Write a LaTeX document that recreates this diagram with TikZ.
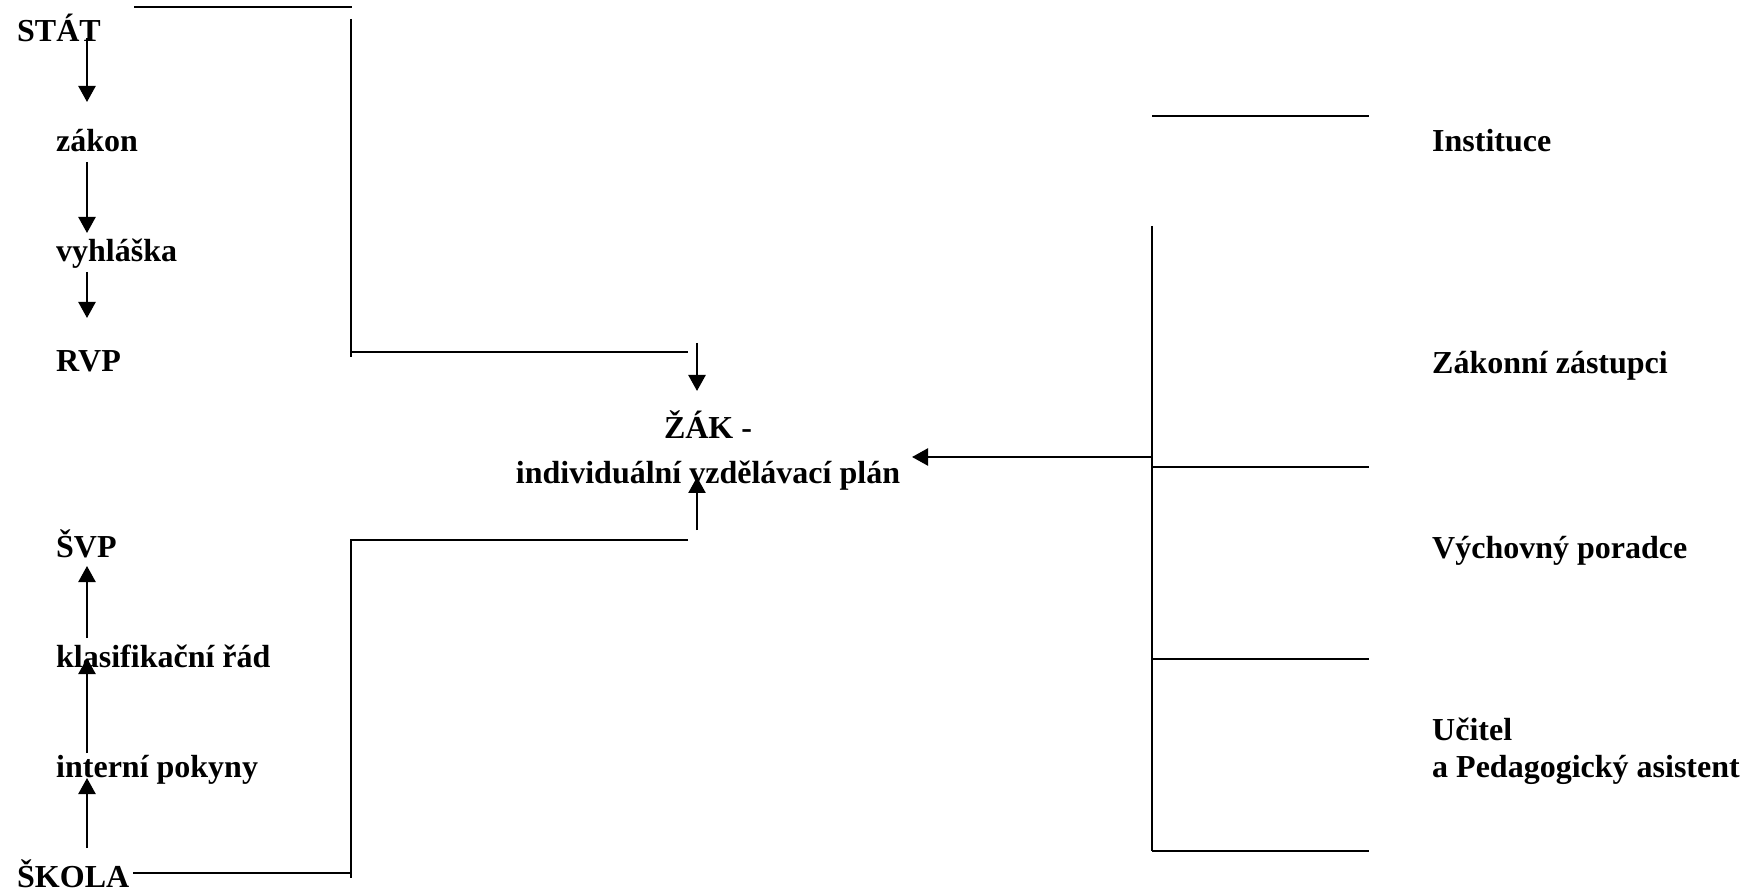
\documentclass[tikz,border=0pt]{standalone}
\usepackage{fontspec}
\setmainfont{Liberation Serif}
\usetikzlibrary{arrows.meta}
\usetikzlibrary{calc}

\begin{document}
\begin{tikzpicture}[x=0.5pt,y=-0.5pt,line width=1.2pt,
	popis/.style={anchor=base west,inner sep=0pt,font=\bfseries\fontsize{16}{19}\selectfont},
	sipka/.style={-{Triangle[length=8pt,width=8.5pt]}}]
	\useasboundingbox (0,0) rectangle (1749,892);
	\coordinate (osa) at (87,0);
	% stat
	\node[popis] (stat) at (16,42) {STÁT};
	\node[popis] (zakon) at (55,152) {zákon};
	\node[popis] (vyhlaska) at (55,262) {vyhláška};
	\node[popis] (rvp) at (55,372) {RVP};
	\draw[sipka] ($(stat.base -| osa)+(0,-4)$) -- ($(zakon.base -| osa)+(0,-50)$);
	\draw[sipka] ($(zakon.base -| osa)+(0,10)$) -- ($(vyhlaska.base -| osa)+(0,-29)$);
	\draw[sipka] ($(vyhlaska.base -| osa)+(0,10)$) -- ($(rvp.base -| osa)+(0,-54)$);
	% skola
	\node[popis] (svp) at (55,557) {ŠVP};
	\node[popis] (klasif) at (55,667) {klasifikační řád};
	\node[popis] (pokyny) at (55,777) {interní pokyny};
	\node[popis] (skola) at (16,887) {ŠKOLA};
	\draw[sipka] ($(skola.base -| osa)+(0,-39)$) -- ($(pokyny.base -| osa)+(0,1)$);
	\draw[sipka] ($(pokyny.base -| osa)+(0,-24)$) -- ($(klasif.base -| osa)+(0,-9)$);
	\draw[sipka] ($(klasif.base -| osa)+(0,-29)$) -- ($(svp.base -| osa)+(0,9)$);
	% zavorky vlevo
	\coordinate (SH1) at (134,7);
	\coordinate (SH2) at (352,7);
	\coordinate (SV1) at (351,19);
	\coordinate (SV2) at (351,357);
	\coordinate (SR) at (351,352);
	\coordinate (SK) at (688,352);
	\draw (SH1) -- (SH2);
	\draw (SV1) -- (SV2);
	\draw (SR) -- (SK);
	\coordinate (KH) at (351,540);
	\coordinate (KK) at (688,540);
	\coordinate (KD) at (351,878);
	\coordinate (KS) at (351,873);
	\draw (KK) -- (KH) -- (KD);
	\draw (KS) -- ++(-218,0);
	% zak
	\node[popis,anchor=base,align=center,font=\bfseries\fontsize{16}{22}\selectfont] (zak) at (708,483) {ŽÁK -\\individuální vzdělávací plán};
	\coordinate (Z1) at (697,343);
	\coordinate (Z2) at (697,530);
	\draw[sipka] (Z1) -- ++(0,48);
	\draw[sipka] (Z2) -- ++(0,-53);
	% vpravo
	\node[popis] (instituce) at (1431,152) {Instituce};
	\node[popis] (zastupci) at (1431,374) {Zákonní zástupci};
	\node[popis] (poradce) at (1431,558) {Výchovný poradce};
	\node[popis,align=left,font=\bfseries\fontsize{16}{18.5}\selectfont] (ucitel) at (1431,777) {Učitel\\a Pedagogický asistent};
	\coordinate (PV1) at (1152,226);
	\coordinate (PV2) at (1152,851);
	\draw (PV1) -- (PV2);
	\foreach \y in {116,467,659,851}
		\draw (PV1 |- 0,\y) -- ++(217,0);
	\coordinate (PS) at (1152,457);
	\draw[sipka] (PS) -- ++(-240,0);
\end{tikzpicture}
\end{document}
